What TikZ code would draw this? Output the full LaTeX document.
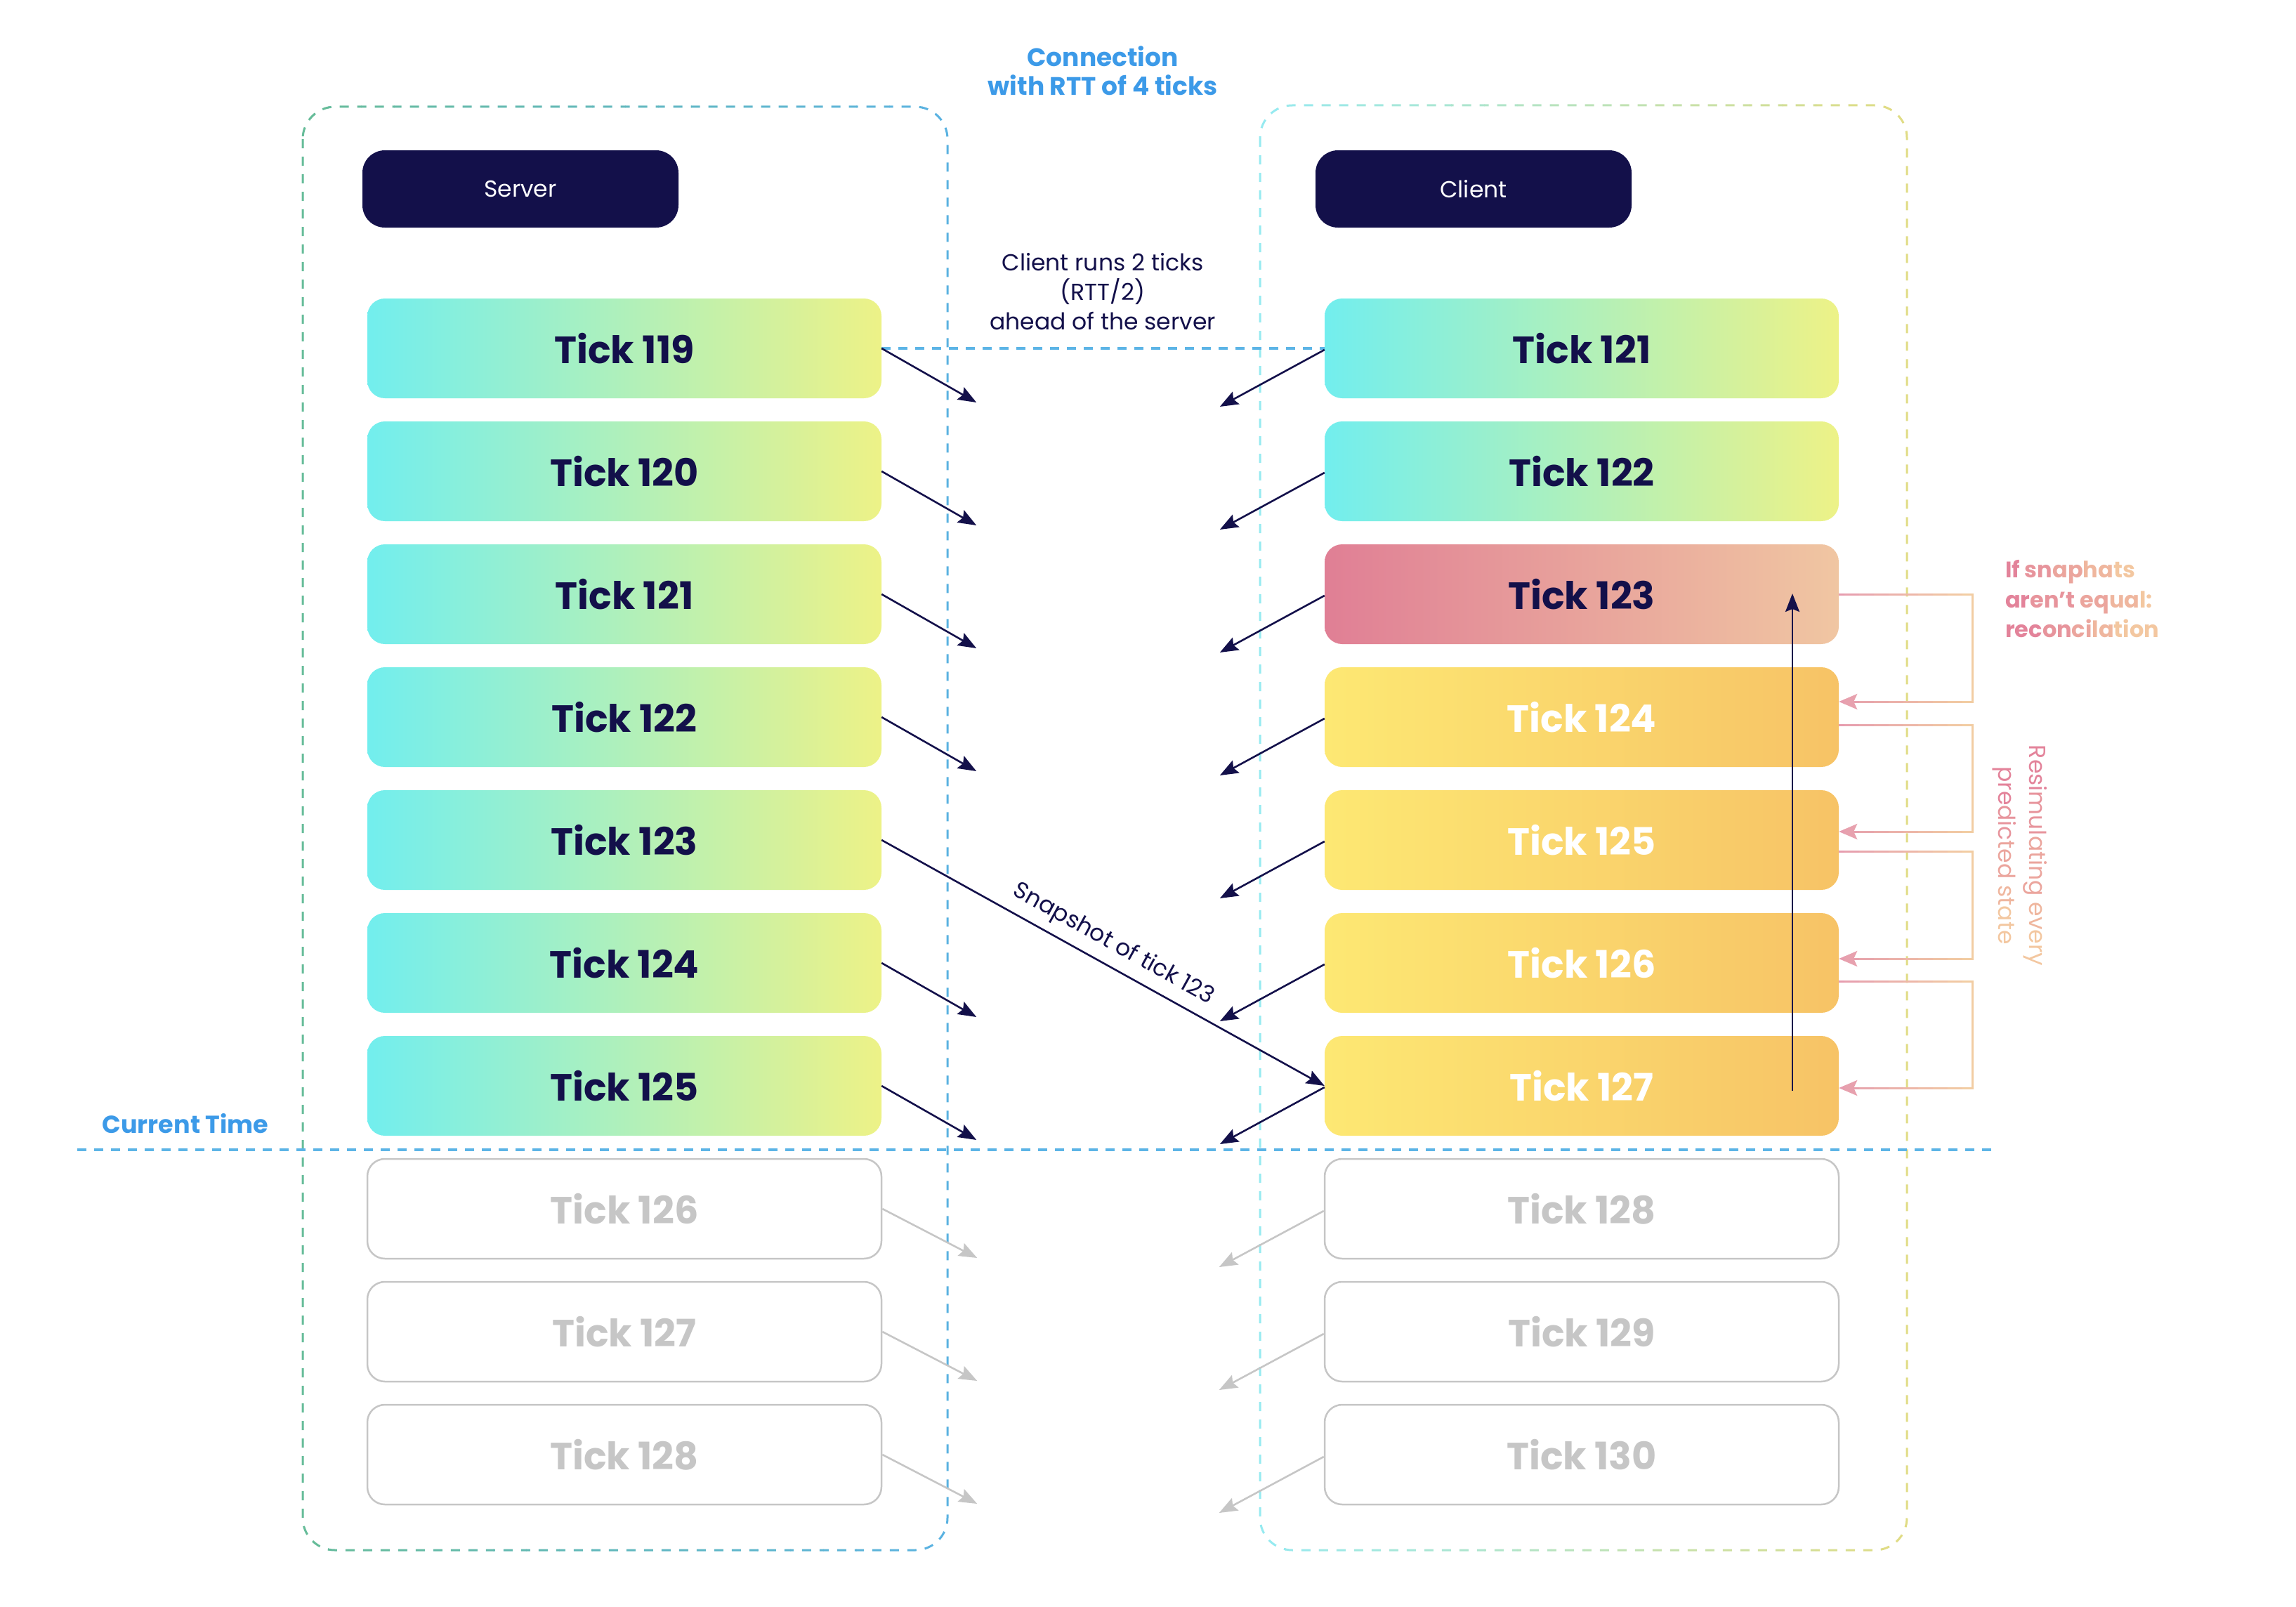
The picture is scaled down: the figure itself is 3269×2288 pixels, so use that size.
\documentclass[tikz,border=0pt]{standalone}
\usepackage{fontspec}
\setmainfont{Poppins}
\usetikzlibrary{arrows.meta,calc}
\definecolor{navy}{HTML}{13104A}
\definecolor{tcyan}{HTML}{72EEEE}
\definecolor{tlime}{HTML}{EDF287}
\definecolor{tpink}{HTML}{E07F95}
\definecolor{tpeach}{HTML}{F0C6A2}
\definecolor{tyel}{HTML}{FDE873}
\definecolor{torange}{HTML}{F7C366}
\definecolor{fgray}{HTML}{C6C6C6}
\definecolor{dblue}{HTML}{5CB4E6}
\definecolor{lblue}{HTML}{3C9AE8}
\definecolor{sgreen}{HTML}{66BC97}
\definecolor{sblue}{HTML}{5AB2E3}
\definecolor{ccyan}{HTML}{94EAF3}
\definecolor{cyell}{HTML}{E2DC82}
\definecolor{lpink}{HTML}{E599B0}
\definecolor{lpeach}{HTML}{F3D0A2}
\definecolor{ga}{HTML}{E3839A}
\definecolor{gb}{HTML}{E7949C}
\definecolor{gc}{HTML}{EBA59D}
\definecolor{gd}{HTML}{EFB69E}
\definecolor{ge}{HTML}{F3C7A0}
\tikzset{
  cont/.style={line width=3pt, dash pattern=on 13pt off 12pt, rounded corners=46pt},
  dline/.style={dblue, line width=4pt, dash pattern=on 13pt off 11pt},
  tickbox/.style={rounded corners=25pt, minimum width=732pt, minimum height=142pt, inner sep=0pt,
    font=\bfseries\fontsize{54}{60}\selectfont},
  srvtick/.style={tickbox, left color=tcyan, right color=tlime, text=navy},
  recon/.style={tickbox, left color=tpink, right color=tpeach, text=navy},
  pred/.style={tickbox, left color=tyel, right color=torange, text=white},
  future/.style={tickbox, draw=fgray, line width=2.5pt, fill=white, text=fgray},
  label/.style={fill=navy, text=white, rounded corners=32pt, minimum width=450pt, minimum height=110pt,
    font=\fontsize{33}{40}\selectfont},
  msg/.style={navy, line width=2.6pt, -{Stealth[length=26pt,width=20pt,inset=4pt]}},
  fmsg/.style={fgray, line width=2.6pt, -{Stealth[length=26pt,width=20pt,inset=4pt]}},
  loopl/.style={line width=3pt, -{Stealth[length=26pt,width=22pt,inset=5pt]}},
}
\begin{document}
\begin{tikzpicture}[x=1pt,y=-1pt]
\useasboundingbox (0,0) rectangle (3269,2288);
% containers (gradient strokes by slices)
\foreach \i in {0,...,19}{
  \pgfmathsetmacro\p{100*(\i+0.5)/20}
  \begin{scope}
    \clip ({420+\i*47},100) rectangle ({420+(\i+1)*47+0.6},2260);
    \draw[cont, draw=sblue!\p!sgreen] (431,152) rectangle (1349,2207);
  \end{scope}
  \begin{scope}
    \clip ({1783+\i*47.2},100) rectangle ({1783+(\i+1)*47.2+0.6},2260);
    \draw[cont, draw=cyell!\p!ccyan] (1794,150) rectangle (2715,2207);
  \end{scope}}
% labels
\node[label] (server) at (741,269) {Server};
\node[label] (client) at (2098,269) {Client};
\node[lblue, align=center, font=\bfseries\fontsize{36}{41}\selectfont] (conn) at (1570,101) {Connection\\with RTT of 4 ticks};
\node[navy, align=center, font=\fontsize{33}{42}\selectfont] (ahead) at (1570,415) {Client runs 2 ticks\\(RTT/2)\\ahead of the server};
\node[lblue, font=\bfseries\fontsize{35}{40}\selectfont] (now) at (264,1600) {Current Time};
% server ticks
\foreach \n [count=\i from 0] in {119,...,125}
  \node[srvtick] (s\n) at (889,496+175*\i) {Tick \n};
\foreach \n [count=\i from 7] in {126,127,128}
  \node[future] (s\n) at (889,496+175*\i) {Tick \n};
% client ticks
\node[srvtick] (c121) at (2252,496) {Tick 121};
\node[srvtick] (c122) at (2252,671) {Tick 122};
\node[recon] (c123) at (2252,846) {Tick 123};
\foreach \n [count=\i from 3] in {124,...,127}
  \node[pred] (c\n) at (2252,496+175*\i) {Tick \n};
\foreach \n [count=\i from 7] in {128,129,130}
  \node[future] (c\n) at (2252,496+175*\i) {Tick \n};
% dashed lines
\coordinate (tl) at (110,1637);
\coordinate (tr) at (2840,1637);
\draw[dline] (tl) -- (tr);
\draw[dline] (s119.east) -- (c121.west);
% server messages
\foreach \n in {119,120,121,122,124,125}{
  \coordinate (se\n) at ($(s\n.east)+(135,77)$);
  \draw[msg] (s\n.east) -- (se\n);}
\foreach \n in {126,127,128}{
  \coordinate (se\n) at ($(s\n.east)+(135,70)$);
  \draw[fmsg] (s\n.east) -- (se\n);}
% client messages
\foreach \n in {121,...,127}{
  \coordinate (ce\n) at ($(c\n.west)+(-149,83)$);
  \draw[msg] ($(c\n.west)+(0,2)$) -- (ce\n);}
\foreach \n in {128,129,130}{
  \coordinate (ce\n) at ($(c\n.west)+(-149,83)$);
  \draw[fmsg] ($(c\n.west)+(0,3)$) -- (ce\n);}
% snapshot
\draw[msg] (s123.east) -- node[sloped, above=12pt, pos=0.5, inner sep=0pt, font=\fontsize{33}{40}\selectfont, text=navy] (snap) {Snapshot of tick 123} (c127.west);
% vertical arrow
\coordinate (vb) at (2552,1553);
\coordinate (vt) at (2552,845);
\draw[msg] (vb) -- (vt);
% reconciliation loops
\coordinate (xr) at (2808,0);
\coordinate (o1) at (c123.east);
\coordinate (i1) at ($(c124.east)+(0,-22)$);
\coordinate (o2) at ($(c124.east)+(0,11)$);
\coordinate (i2) at ($(c125.east)+(0,-12)$);
\coordinate (o3) at ($(c125.east)+(0,16)$);
\coordinate (i3) at ($(c126.east)+(0,-6)$);
\coordinate (o4) at ($(c126.east)+(0,26)$);
\coordinate (i4) at ($(c127.east)+(0,3)$);
\foreach \j in {0,...,9}{
  \pgfmathsetmacro\q{100*(\j+0.5)/10}
  \begin{scope}
    \clip ({2605+\j*21},700) rectangle ({2605+(\j+1)*21+0.6},1650);
    \foreach \k in {1,2,3,4}
      \draw[loopl, draw=lpeach!\q!lpink] (o\k) -- (o\k -| xr) -- (i\k -| xr) -- (i\k);
  \end{scope}}
% annotations
\node[anchor=west, align=left, inner sep=0pt, font=\bfseries\fontsize{32}{42.5}\selectfont] (ifnote) at (2855,853)
  {\textcolor{ga}{If} \textcolor{gb}{sn}\textcolor{gc}{ap}\textcolor{gd}{ha}\textcolor{ge}{ts}\\
   \textcolor{ga}{ar}\textcolor{gb}{en’t} \textcolor{gc}{eq}\textcolor{gd}{ua}\textcolor{ge}{l:}\\
   \textcolor{ga}{rec}\textcolor{gb}{on}\textcolor{gc}{ci}\textcolor{gd}{la}\textcolor{ge}{tion}};
\node[rotate=-90, align=center, inner sep=0pt, font=\fontsize{33}{44}\selectfont] (resim) at (2876,1218)
  {\textcolor{ga}{Resi}\textcolor{gb}{mul}\textcolor{gc}{ating} \textcolor{gd}{ev}\textcolor{ge}{ery}\\
   \textcolor{ga}{pre}\textcolor{gb}{dic}\textcolor{gc}{ted} \textcolor{gd}{st}\textcolor{ge}{ate}};
\end{tikzpicture}
\end{document}
